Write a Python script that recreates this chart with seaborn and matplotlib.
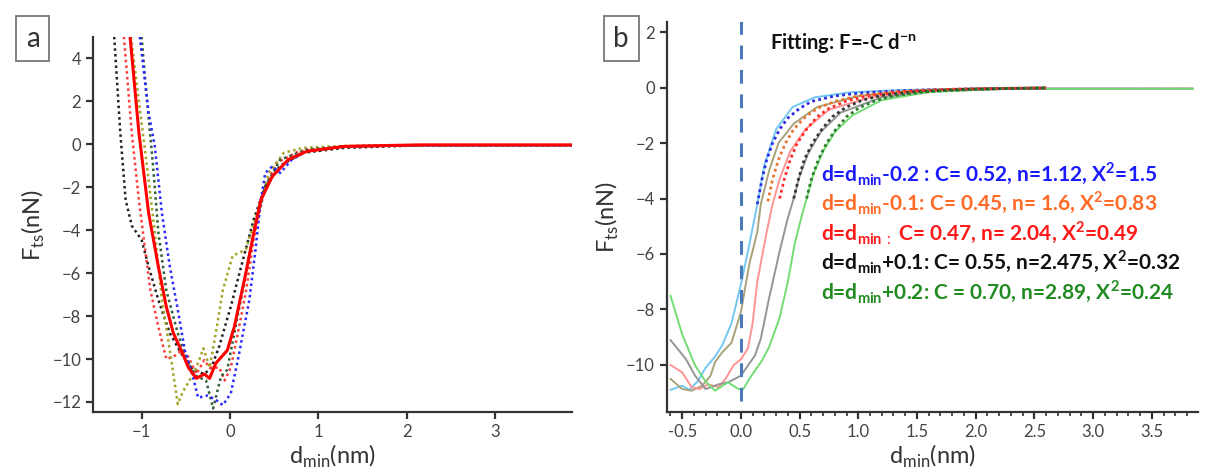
import numpy as np
import pandas as pd
import matplotlib
matplotlib.use("Agg")
import matplotlib.pyplot as plt
from matplotlib.ticker import MultipleLocator
import seaborn as sns

# ---- panel a: measured force curves (dotted) and their mean (solid red)
a_black_x = [-1.31, -1.24, -1.18, -1.11, -1.0, -0.92, -0.81, -0.68, -0.55, -0.42, -0.29, -0.21, -0.12, 0.01, 0.14, 0.27, 0.4, 0.57, 0.83, 1.3, 2.1, 3.87]
a_black_y = [5.0, 0.5, -2.6, -3.8, -4.45, -5.7, -7.25, -8.8, -9.75, -10.5, -10.7, -10.4, -9.4, -7.56, -5.5, -3.5, -1.96, -1.0, -0.4, -0.17, -0.06, -0.05]

a_red_x = [-1.2, -1.11, -1.03, -0.96, -0.9, -0.81, -0.72, -0.64, -0.55, -0.47, -0.38, -0.29, -0.23, -0.12, -0.06, 0.01, 0.09, 0.18, 0.27, 0.4, 0.53, 0.78, 1.3, 2.1, 3.87]
a_red_y = [5.0, 0.5, -2.6, -4.9, -6.8, -8.5, -10.0, -9.9, -9.6, -9.9, -10.7, -10.05, -10.4, -10.4, -11.0, -10.4, -8.8, -6.9, -4.4, -1.96, -0.87, -0.33, -0.1, -0.05, -0.05]

a_olive_x = [-1.12, -1.03, -0.94, -0.85, -0.77, -0.68, -0.59, -0.53, -0.47, -0.38, -0.3, -0.23, -0.16, -0.08, 0.03, 0.18, 0.31, 0.44, 0.61, 0.83, 1.3, 2.1, 3.87]
a_olive_y = [5.0, 2.0, -1.0, -4.1, -7.25, -9.6, -12.1, -11.5, -11.1, -10.4, -9.5, -10.4, -8.8, -6.8, -5.2, -4.9, -3.2, -1.34, -0.4, -0.17, -0.08, -0.05, -0.05]

a_green_x = [-1.0, -0.94, -0.87, -0.81, -0.72, -0.59, -0.47, -0.38, -0.27, -0.19, -0.1, -0.03, 0.05, 0.14, 0.27, 0.4, 0.57, 0.87, 1.3, 2.1, 3.87]
a_green_y = [5.0, 2.1, -1.0, -4.1, -6.8, -8.8, -10.2, -10.8, -11.0, -12.3, -10.8, -10.5, -8.8, -6.9, -4.1, -1.96, -0.72, -0.25, -0.1, -0.05, -0.05]

a_blue_x = [-1.02, -0.92, -0.85, -0.77, -0.68, -0.59, -0.51, -0.42, -0.36, -0.25, -0.16, -0.08, 0.01, 0.09, 0.22, 0.29, 0.35, 0.4, 0.48, 0.57, 0.7, 0.87, 1.3, 2.1, 3.87]
a_blue_y = [5.0, 1.46, -0.1, -3.2, -5.7, -7.7, -9.6, -10.8, -11.8, -11.7, -11.9, -12.15, -11.6, -10.05, -7.25, -4.9, -2.6, -1.34, -1.03, -1.34, -0.72, -0.33, -0.1, -0.05, -0.05]

a_mean_x = [-1.13, -1.03, -0.92, -0.81, -0.72, -0.64, -0.55, -0.47, -0.38, -0.29, -0.23, -0.16, -0.03, 0.05, 0.18, 0.27, 0.35, 0.48, 0.66, 0.87, 1.3, 2.16, 3.87]
a_mean_y = [5.0, 0.53, -3.2, -5.7, -7.56, -8.8, -9.6, -10.4, -10.9, -10.7, -10.9, -10.2, -9.6, -8.5, -6.0, -4.14, -2.6, -1.5, -0.72, -0.33, -0.1, -0.03, -0.03]

# ---- panel b: shifted curves (solid, light) and power-law fits (dotted)
b_blue_x = [-0.6, -0.5, -0.44, -0.37, -0.3, -0.22, -0.16, -0.08, 0.0, 0.07, 0.14, 0.2, 0.3, 0.44, 0.63, 0.93, 1.43, 2.07, 3.85]
b_blue_y = [-10.9, -10.75, -10.9, -10.6, -10.1, -9.7, -9.3, -8.5, -7.1, -5.7, -4.2, -2.8, -1.5, -0.7, -0.35, -0.17, -0.08, -0.03, -0.04]

b_olive_x = [-0.6, -0.5, -0.42, -0.33, -0.26, -0.22, -0.16, -0.08, 0.0, 0.07, 0.14, 0.17, 0.24, 0.32, 0.45, 0.65, 1.0, 1.5, 2.1, 3.85]
b_olive_y = [-10.5, -10.87, -10.93, -10.75, -10.4, -9.9, -9.55, -9.2, -8.1, -6.4, -5.2, -4.2, -3.0, -2.0, -1.3, -0.7, -0.3, -0.1, -0.04, -0.04]

b_red_x = [-0.6, -0.5, -0.42, -0.35, -0.28, -0.19, -0.13, -0.06, 0.0, 0.06, 0.1, 0.14, 0.22, 0.27, 0.33, 0.42, 0.55, 0.75, 1.1, 1.6, 2.2, 3.85]
b_red_y = [-10.0, -10.27, -10.8, -10.87, -10.7, -10.8, -10.5, -10.0, -9.8, -9.4, -8.5, -7.0, -5.2, -4.2, -3.3, -2.3, -1.5, -0.8, -0.35, -0.12, -0.04, -0.04]

b_gray_x = [-0.6, -0.47, -0.39, -0.3, -0.19, -0.11, 0.0, 0.06, 0.12, 0.17, 0.24, 0.33, 0.4, 0.45, 0.5, 0.57, 0.68, 0.85, 1.2, 1.7, 2.3, 3.85]
b_gray_y = [-9.1, -9.78, -10.39, -10.87, -10.7, -10.63, -10.39, -10.02, -9.66, -9.05, -7.6, -5.9, -4.7, -4.0, -3.2, -2.4, -1.6, -0.9, -0.35, -0.12, -0.04, -0.04]

b_green_x = [-0.6, -0.5, -0.39, -0.3, -0.22, -0.11, -0.02, 0.02, 0.09, 0.18, 0.24, 0.33, 0.4, 0.46, 0.52, 0.56, 0.62, 0.7, 0.8, 0.95, 1.2, 1.6, 2.2, 3.85]
b_green_y = [-7.5, -8.9, -10.02, -10.6, -10.93, -10.63, -10.87, -10.87, -10.39, -9.84, -9.36, -8.3, -7.0, -5.6, -4.6, -4.0, -3.1, -2.3, -1.6, -1.0, -0.45, -0.16, -0.05, -0.04]

fit_blue_x = [0.14, 0.18, 0.22, 0.27, 0.33, 0.4, 0.5, 0.6, 0.8, 1.0, 1.3, 1.7, 2.1, 2.6]
fit_blue_y = [-4.2, -3.3, -2.6, -2.0, -1.5, -1.1, -0.75, -0.5, -0.3, -0.2, -0.12, -0.07, -0.04, -0.02]

fit_orange_x = [0.23, 0.27, 0.32, 0.38, 0.45, 0.55, 0.65, 0.8, 1.0, 1.3, 1.7, 2.1, 2.6]
fit_orange_y = [-4.1, -3.3, -2.6, -2.0, -1.5, -1.05, -0.75, -0.5, -0.3, -0.15, -0.07, -0.03, -0.01]

fit_red_x = [0.33, 0.37, 0.42, 0.48, 0.56, 0.65, 0.75, 0.9, 1.1, 1.4, 1.8, 2.2, 2.6]
fit_red_y = [-4.0, -3.3, -2.6, -2.0, -1.5, -1.05, -0.75, -0.48, -0.28, -0.14, -0.06, -0.03, -0.01]

fit_black_x = [0.45, 0.49, 0.54, 0.61, 0.69, 0.78, 0.89, 1.03, 1.2, 1.5, 1.9, 2.3, 2.6]
fit_black_y = [-4.0, -3.3, -2.6, -2.0, -1.5, -1.05, -0.72, -0.46, -0.28, -0.14, -0.06, -0.03, -0.01]

fit_green_x = [0.56, 0.6, 0.66, 0.73, 0.81, 0.9, 1.01, 1.15, 1.32, 1.6, 2.0, 2.3, 2.6]
fit_green_y = [-4.0, -3.3, -2.6, -2.0, -1.5, -1.05, -0.72, -0.46, -0.28, -0.14, -0.06, -0.03, -0.01]

fit_labels = [
    r"d=d$_{\mathbf{min}}$-0.2 : C= 0.52, n=1.12, X$^{\mathbf{2}}$=1.5",
    r"d=d$_{\mathbf{min}}$-0.1: C= 0.45, n= 1.6, X$^{\mathbf{2}}$=0.83",
    r"d=d$_{\mathbf{min}\,:}$ C= 0.47, n= 2.04, X$^{\mathbf{2}}$=0.49",
    r"d=d$_{\mathbf{min}}$+0.1: C= 0.55, n=2.475, X$^{\mathbf{2}}$=0.32",
    r"d=d$_{\mathbf{min}}$+0.2: C = 0.70, n=2.89, X$^{\mathbf{2}}$=0.24",
]
fit_label_colors = ["#1a1aff", "#ff6a26", "#ff1a1a", "#111111", "#228b22"]

sns.set_style("ticks")
plt.rcParams["font.family"] = ["Lato", "DejaVu Sans"]
plt.rcParams["mathtext.fontset"] = "custom"
plt.rcParams["mathtext.rm"] = "Lato"
plt.rcParams["mathtext.bf"] = "Lato:bold"

fig = plt.figure(figsize=(12.06, 4.72), dpi=100)
ax1 = fig.add_axes([0.0771, 0.127, 0.397, 0.795])
ax2 = fig.add_axes([0.553, 0.127, 0.44, 0.826])

# panel a
dot = (0, (1, 1.3))
a_curves = [
    (a_black_x, a_black_y, "#222222"),
    (a_red_x, a_red_y, "#ff3b3b"),
    (a_olive_x, a_olive_y, "#a3a325"),
    (a_green_x, a_green_y, "#2e5e34"),
    (a_blue_x, a_blue_y, "#2828ff"),
]
for xs, ys, col in a_curves:
    sns.lineplot(x=xs, y=ys, ax=ax1, color=col, lw=1.8, linestyle=dot, sort=False, estimator=None)
sns.lineplot(x=a_mean_x, y=a_mean_y, ax=ax1, color="#ff0000", lw=2.2, sort=False, estimator=None)

ax1.set_xlim(-1.55, 3.87)
ax1.set_ylim(-12.47, 5.0)
ax1.set_xticks([-1, 0, 1, 2, 3])
ax1.set_yticks(np.arange(-12, 5, 2))

# panel b
b_solids = [
    (b_blue_x, b_blue_y, "#72c8f2"),
    (b_olive_x, b_olive_y, "#aaa27a"),
    (b_red_x, b_red_y, "#ff9494"),
    (b_gray_x, b_gray_y, "#959595"),
    (b_green_x, b_green_y, "#74dc74"),
]
for xs, ys, col in b_solids:
    sns.lineplot(x=xs, y=ys, ax=ax2, color=col, lw=1.4, sort=False, estimator=None)

b_fits = [
    (fit_blue_x, fit_blue_y, "#2a2ae0"),
    (fit_orange_x, fit_orange_y, "#e8742e"),
    (fit_red_x, fit_red_y, "#ff2a2a"),
    (fit_black_x, fit_black_y, "#333333"),
    (fit_green_x, fit_green_y, "#2c7a2c"),
]
for xs, ys, col in b_fits:
    sns.lineplot(x=xs, y=ys, ax=ax2, color=col, lw=2.0, linestyle=(0, (1, 1.2)), sort=False, estimator=None)

ax2.vlines(0, -11.3, 2.45, colors="#4a7ab8", lw=2.2, linestyles=(0, (4.5, 3.5)))

ax2.text(0.25, 1.6, r"Fitting: F=-C d$^{\mathbf{-n}}$", fontsize=14.5, fontweight="bold", color="#111111", va="center")
for i, (lab, col) in enumerate(zip(fit_labels, fit_label_colors)):
    ax2.text(0.68, -3.13 - 1.06 * i, lab, fontsize=15, fontweight="bold", color=col, va="center")

ax2.set_xlim(-0.63, 3.89)
ax2.set_ylim(-11.7, 2.36)
ax2.xaxis.set_major_locator(MultipleLocator(0.5))
ax2.xaxis.set_minor_locator(MultipleLocator(0.1))
ax2.set_yticks(np.arange(-10, 3, 2))
ax2.set_xticklabels([f"{v:.1f}" for v in ax2.get_xticks()])

for ax in (ax1, ax2):
    sns.despine(ax=ax)
    for sp in ("left", "bottom"):
        ax.spines[sp].set_linewidth(1.6)
        ax.spines[sp].set_color("#333333")
    ax.tick_params(which="major", length=5, width=1.6, color="#333333", labelsize=12, labelcolor="#444444", direction="out")
    ax.tick_params(which="minor", length=3, width=1.2, color="#333333")
    ax.set_xlabel(r"d$_{\mathrm{min}}$(nm)", fontsize=17, color="#333333", labelpad=2)
    ax.set_ylabel(r"F$_{\mathrm{ts}}$(nN)", fontsize=17, color="#333333", labelpad=4)

fig.text(0.027, 0.918, "a", fontsize=20, color="#333333", ha="center", va="center",
         bbox=dict(boxstyle="square,pad=0.35", fc="white", ec="#777777", lw=1.3))
fig.text(0.515, 0.918, "b", fontsize=20, color="#333333", ha="center", va="center",
         bbox=dict(boxstyle="square,pad=0.35", fc="white", ec="#777777", lw=1.3))

fig.savefig("out.png", dpi=100)
